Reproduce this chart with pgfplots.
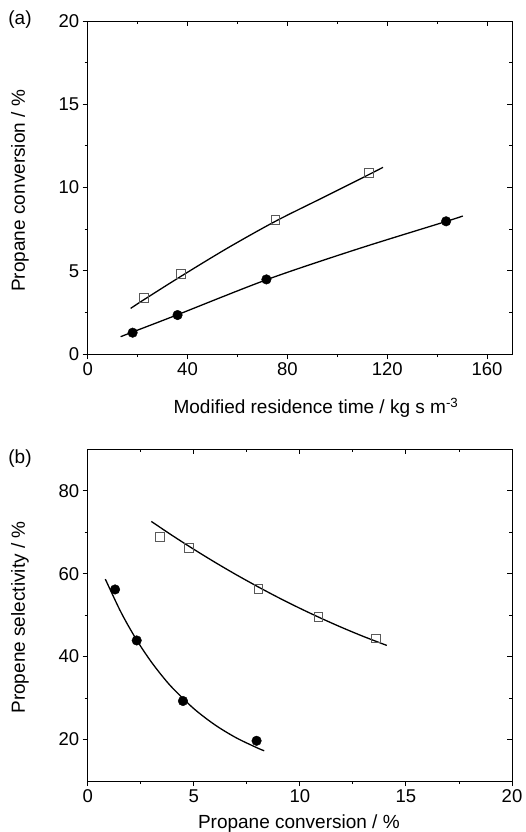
\documentclass[border=0pt]{standalone}
\usepackage{fontspec}
\setmainfont{Liberation Sans}
\usepackage{pgfplots}
\pgfplotsset{compat=1.18}
\pgfplotsset{
  base/.style={
    scale only axis, width=424.3pt,
    axis line style={line width=0.9pt, black},
    every tick/.style={line width=0.9pt, black},
    major tick length=5pt, minor tick length=3pt,
    tick label style={font=\fontsize{18.5}{22}\selectfont},
    label style={font=\fontsize{19}{22}\selectfont},
    /pgf/number format/assume math mode=true,
    clip=false,
  },
  fitline/.style={line width=1.3pt, black, smooth, no markers},
  circ/.style={only marks, mark=*, mark size=4.8pt, mark options={fill=black, draw=black}},
  sq/.style={only marks, mark=square, mark size=4.4pt, mark options={draw=black!65, line width=0.9pt}},
}
\begin{document}
\begin{tikzpicture}
\path[use as bounding box] (0pt,0pt) rectangle (526pt,-832pt);

% ---------- panel (a) ----------
\begin{axis}[base, at={(87.7pt,-354pt)}, anchor=south west, height=333pt,
  xmin=0, xmax=170, ymin=0, ymax=20,
  xtick={0,40,80,120,160}, minor xtick={20,60,100,140},
  ytick={0,5,10,15,20}, minor ytick={2.5,7.5,12.5,17.5},
  tick align=outside, xtick pos=left, ytick pos=left,
  xlabel={Modified residence time / kg s m\textsuperscript{-3}},
  ylabel={Propane conversion / \%},
  xlabel style={at={(axis description cs:0.538,-0.162)}, anchor=center},
  ylabel style={at={(axis description cs:-0.1596,0.49)}, anchor=center},
]
\addplot[fitline] coordinates {(17.2,2.74) (22.4,3.25) (37.3,4.66) (56,6.36) (75.2,7.97) (95,9.45) (112.7,10.78) (118.3,11.21)};
\addplot[fitline] coordinates {(13.2,1.04) (18,1.32) (36,2.36) (72,4.48) (108,6.3) (144,7.98) (150.3,8.29)};
\addplot[sq] coordinates {(22.4,3.38) (37.3,4.79) (75.2,8.07) (112.7,10.87)};
\addplot[circ] coordinates {(18,1.28) (36,2.34) (71.6,4.48) (143.6,7.97)};
\node[font=\fontsize{19}{22}\selectfont] at (axis description cs:-0.1596,1.003) {(a)};
\end{axis}
\begin{axis}[base, at={(87.7pt,-354pt)}, anchor=south west, height=333pt,
  xmin=0, xmax=170, ymin=0, ymax=20,
  xtick={0,40,80,120,160}, minor xtick={20,60,100,140},
  ytick={0,5,10,15,20}, minor ytick={2.5,7.5,12.5,17.5},
  tick align=inside, xtick pos=right, ytick pos=right,
  xticklabels={}, yticklabels={},
]
\end{axis}

% ---------- panel (b) ----------
\begin{axis}[base, at={(87.7pt,-781pt)}, anchor=south west, height=331.7pt,
  xmin=0, xmax=20, ymin=10, ymax=90,
  xtick={0,5,10,15,20}, minor xtick={2.5,7.5,12.5,17.5},
  ytick={20,40,60,80}, minor ytick={30,50,70},
  tick align=outside, xtick pos=left, ytick pos=left,
  xlabel={Propane conversion / \%},
  ylabel={Propene selectivity / \%},
  xlabel style={at={(axis description cs:0.4977,-0.1417)}, anchor=base},
  ylabel style={at={(axis description cs:-0.1596,0.493)}, anchor=center},
]
\addplot[fitline] coordinates {(3.0,72.6) (4,69.17) (5,65.89) (6,62.75) (7,59.76) (8,56.92) (9,54.21) (10,51.66) (11,49.25) (12,46.98) (13,44.86) (14.1,42.7)};
\addplot[fitline] coordinates {(0.83,58.7) (1.5,51.4) (2,46.67) (2.5,42.46) (3,38.71) (3.5,35.39) (4,32.43) (5,27.46) (6,23.53) (7,20.42) (8,17.97) (8.32,17.3)};
\addplot[sq] coordinates {(3.41,68.9) (4.76,66.3) (8.05,56.3) (10.88,49.5) (13.58,44.4)};
\addplot[circ] coordinates {(1.29,56.2) (2.31,43.9) (4.49,29.3) (7.96,19.7)};
\node[font=\fontsize{19}{22}\selectfont] at (axis description cs:-0.1596,0.971) {(b)};
\end{axis}
\begin{axis}[base, at={(87.7pt,-781pt)}, anchor=south west, height=331.7pt,
  xmin=0, xmax=20, ymin=10, ymax=90,
  xtick={0,5,10,15,20}, minor xtick={2.5,7.5,12.5,17.5},
  ytick={20,40,60,80}, minor ytick={30,50,70},
  tick align=inside, xtick pos=right, ytick pos=right,
  xticklabels={}, yticklabels={},
]
\end{axis}
\end{tikzpicture}
\end{document}
